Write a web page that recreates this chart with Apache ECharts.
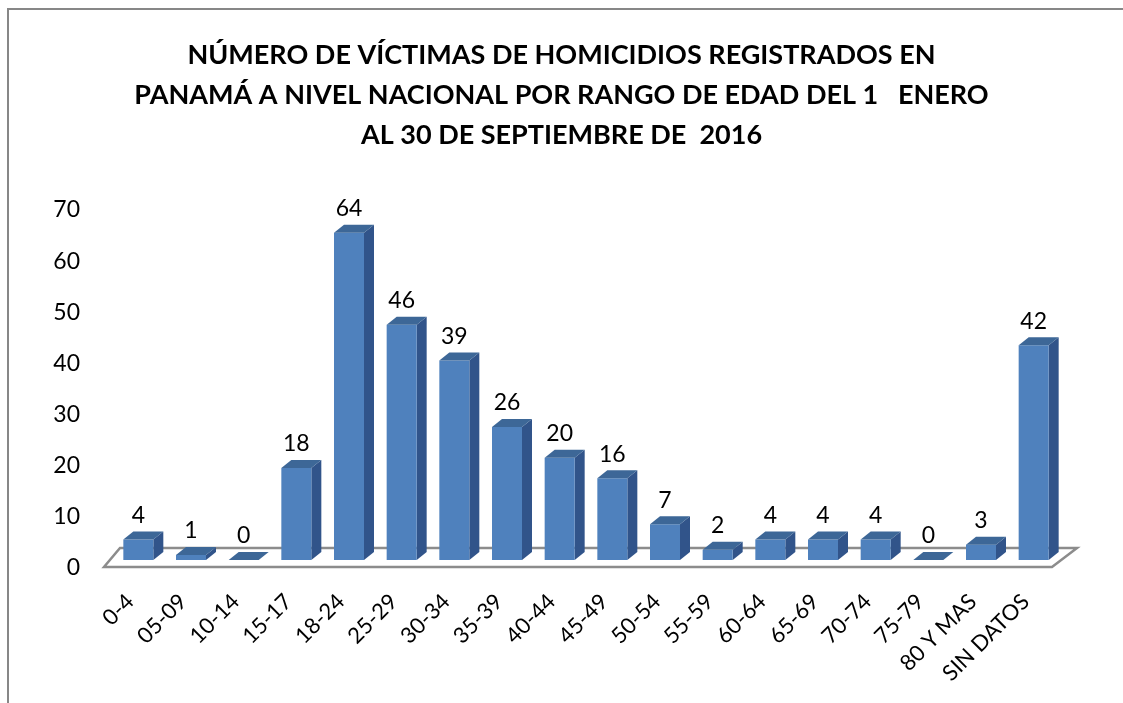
<!DOCTYPE html>
<html>
<head>
<meta charset="utf-8">
<script src="https://cdn.jsdelivr.net/npm/echarts@6/dist/echarts.min.js"></script>
<style>
  html, body { margin: 0; padding: 0; background: #fff; }
  #chart { width: 1123px; height: 703px; }
</style>
</head>
<body>
<div id="chart"></div>
<script>
const titleLines = [
  "NÚMERO DE VÍCTIMAS DE HOMICIDIOS REGISTRADOS EN",
  "PANAMÁ A NIVEL NACIONAL POR RANGO DE EDAD DEL 1   ENERO",
  "AL 30 DE SEPTIEMBRE DE  2016"
];
const ageGroups = ["0-4", "05-09", "10-14", "15-17", "18-24", "25-29", "30-34", "35-39",
  "40-44", "45-49", "50-54", "55-59", "60-64", "65-69", "70-74", "75-79", "80 Y MAS", "SIN DATOS"];
const victims = [4, 1, 0, 18, 64, 46, 39, 26, 20, 16, 7, 2, 4, 4, 4, 0, 3, 42];

const FONT = "Lato, 'Open Sans', sans-serif";
const FRONT = "#4F81BD";
const TOP = "#3D6797";
const SIDE = "#31548A";

const chart = echarts.init(document.getElementById("chart"));

// fake 3D column: front face + side + top, shifted back a bit from the floor edge
function renderBar(params, api) {
  const idx = api.value(0);
  const val = api.value(1);
  const p = api.coord([idx, val]);
  const b = api.coord([idx, 0]);
  const halfW = 15, dx = 10, dy = 8, shiftX = 8, shiftY = 8;
  const cx = p[0] + shiftX;
  const left = cx - halfW, right = cx + halfW;
  const top = p[1] - shiftY, bottom = b[1] - shiftY;
  return {
    type: "group",
    children: [
      {
        type: "polygon",
        shape: { points: [[right, top], [right + dx, top - dy], [right + dx, bottom - dy], [right, bottom]] },
        style: { fill: SIDE }
      },
      {
        type: "rect",
        shape: { x: left, y: top, width: right - left, height: bottom - top },
        style: { fill: FRONT }
      },
      {
        type: "polygon",
        shape: { points: [[left, top], [left + dx, top - dy], [right + dx, top - dy], [right, top]] },
        style: { fill: TOP }
      },
      {
        type: "text",
        style: {
          text: String(val),
          x: cx, y: top - dy - 16,
          align: "center", verticalAlign: "middle",
          font: "23px " + FONT, fill: "#000"
        }
      }
    ]
  };
}

chart.setOption({
  animation: false,
  backgroundColor: "#fff",
  title: {
    text: titleLines.join("\n"),
    left: "center",
    top: 30,
    textStyle: { fontFamily: FONT, fontWeight: "bold", fontSize: 27, lineHeight: 40, color: "#000" }
  },
  graphic: [
    {
      type: "rect", z: -10,
      shape: { x: 8, y: 9, width: 1300, height: 900 },
      style: { fill: "none", stroke: "#878787", lineWidth: 2 }
    },
    {
      type: "polygon", z: -5,
      shape: { points: [[104, 567], [1052, 567], [1077, 548], [120, 548]] },
      style: { fill: "none", stroke: "#8c8c8c", lineWidth: 2.5 }
    }
  ],
  grid: { left: 104, right: 71, top: 210, bottom: 135 },
  xAxis: {
    type: "category",
    data: ageGroups,
    axisLine: { show: false },
    axisTick: { show: false },
    axisLabel: { rotate: 45, margin: 30, interval: 0, fontFamily: FONT, fontSize: 22, color: "#000" }
  },
  yAxis: {
    type: "value",
    min: 0, max: 70, interval: 10,
    axisLine: { show: false },
    axisTick: { show: false },
    splitLine: { show: false },
    axisLabel: { margin: 24, fontFamily: FONT, fontSize: 23, color: "#000" }
  },
  series: [{
    type: "custom",
    renderItem: renderBar,
    encode: { x: 0, y: 1 },
    data: victims.map((v, i) => [i, v])
  }]
});
</script>
</body>
</html>
